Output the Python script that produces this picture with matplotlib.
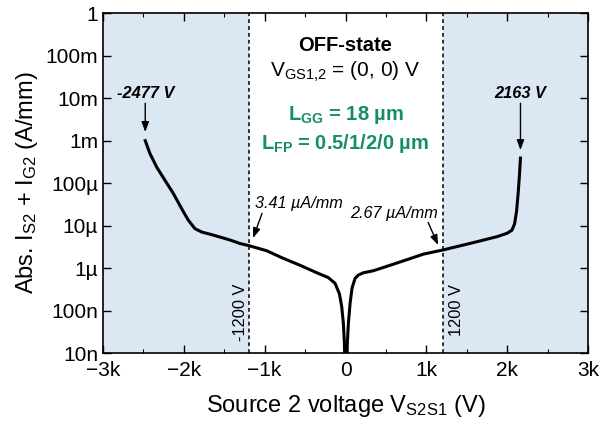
import numpy as np
import matplotlib
matplotlib.use("Agg")
import matplotlib.pyplot as plt
from matplotlib.ticker import FixedLocator, MultipleLocator, LogLocator, NullFormatter

plt.rcParams['font.family'] = ['Liberation Sans', 'DejaVu Sans']
plt.rcParams['mathtext.fontset'] = 'custom'
plt.rcParams['mathtext.rm'] = 'Liberation Sans'
plt.rcParams['mathtext.it'] = 'Liberation Sans:italic'
plt.rcParams['mathtext.bf'] = 'Liberation Sans:bold'

# negative sweep (V, A/mm)
v_neg = [-2477, -2419, -2336, -2233, -2130, -2026, -1945, -1862, -1779, -1635, -1429,
         -1305, -1200, -975, -769, -563, -356, -213, -130, -76, -47, -27, -14, -6]
i_neg = [1.0e-3, 5.0e-4, 2.4e-4, 1.17e-4, 5.75e-5, 2.5e-5, 1.35e-5, 8.5e-6, 7.1e-6, 6.0e-6, 4.6e-6,
         3.8e-6, 3.41e-6, 2.57e-6, 1.7e-6, 1.17e-6, 7.8e-7, 6.0e-7, 4.4e-7, 2.5e-7, 1.23e-7,
         5.0e-8, 1.7e-8, 3e-9]

# positive sweep (V, A/mm)
v_pos = [14, 22, 35, 56, 80, 118, 159, 221, 344, 551, 757, 963, 1200, 1582, 1871, 1995,
         2057, 2090, 2115, 2135, 2150, 2163]
i_pos = [3e-9, 1.7e-8, 5.0e-8, 1.48e-7, 3.4e-7, 5.75e-7, 6.9e-7, 7.8e-7, 8.7e-7, 1.17e-6,
         1.58e-6, 2.14e-6, 2.67e-6, 4.0e-6, 5.5e-6, 6.6e-6, 7.8e-6, 1.1e-5, 2.2e-5, 6.0e-5,
         1.5e-4, 3.9e-4]

y_ticks = [1e-8, 1e-7, 1e-6, 1e-5, 1e-4, 1e-3, 1e-2, 1e-1, 1]
y_labels = ['10n', '100n', '1\u00b5', '10\u00b5', '100\u00b5', '1m', '10m', '100m', '1']
x_ticks = [-3000, -2000, -1000, 0, 1000, 2000, 3000]
x_labels = ['\u22123k', '\u22122k', '\u22121k', '0', '1k', '2k', '3k']

green = '#16905e'
shade = '#dce7f4'

fig = plt.figure(figsize=(6.02, 4.26), dpi=100)
ax = fig.add_axes([0.171, 0.171, 0.806, 0.798])

ax.axvspan(-3000, -1200, color=shade, lw=0, zorder=0)
ax.axvspan(1200, 3000, color=shade, lw=0, zorder=0)
ax.axvline(-1200, color='k', lw=1.1, ls=(0, (2.5, 2)), zorder=1)
ax.axvline(1200, color='k', lw=1.1, ls=(0, (2.5, 2)), zorder=1)

ax.plot(v_neg, i_neg, color='k', lw=2.2, zorder=3, solid_joinstyle='round')
ax.plot(v_pos, i_pos, color='k', lw=2.2, zorder=3, solid_joinstyle='round')

ax.set_yscale('log')
ax.set_xlim(-3000, 3000)
ax.set_ylim(1e-8, 1)
ax.yaxis.set_major_locator(FixedLocator(y_ticks))
ax.set_yticklabels(y_labels)
ax.yaxis.set_minor_locator(LogLocator(base=10, subs=np.arange(2, 10)))
ax.yaxis.set_minor_formatter(NullFormatter())
ax.set_xticks(x_ticks)
ax.set_xticklabels(x_labels)
ax.xaxis.set_minor_locator(MultipleLocator(500))
ax.tick_params(which='both', direction='in', top=True, right=True, labelsize=15)
ax.tick_params(which='major', length=6, width=1)
ax.tick_params(which='minor', length=3, width=0.8)
ax.tick_params(axis='x', which='major', pad=6)
for s in ax.spines.values():
    s.set_linewidth(1.2)

ax.set_xlabel(r'Source 2 voltage V$_{\rm S2S1}$ (V)', fontsize=17, labelpad=9)
ax.set_ylabel(r'Abs. I$_{\rm S2}$ + I$_{\rm G2}$ (A/mm)', fontsize=17, labelpad=4)

ax.text(0.5, 0.906, 'OFF-state', transform=ax.transAxes, ha='center', va='center',
        fontsize=14.5, fontweight='bold')
ax.text(0.5, 0.826, r'V$_{\rm GS1{,}2}$ = (0, 0) V', transform=ax.transAxes, ha='center',
        va='center', fontsize=15)
ax.text(0.5, 0.70, 'L$_{\\bf GG}$ = 18 \u00b5m', transform=ax.transAxes,
        ha='center', va='center', fontsize=14.5, fontweight='bold', color=green)
ax.text(0.5, 0.618, 'L$_{\\bf FP}$ = 0.5/1/2/0 \u00b5m',
        transform=ax.transAxes, ha='center', va='center', fontsize=14.5, fontweight='bold',
        color=green)

arrow = dict(arrowstyle='-|>,head_length=0.6,head_width=0.22', color='k', lw=1.0,
             shrinkA=0, shrinkB=0)

ax.text(-2477, 1.3e-2, '-2477 V', ha='center', va='center', fontsize=11.8,
        fontweight='bold', fontstyle='italic')
ax.annotate('', xy=(-2477, 1.6e-3), xytext=(-2477, 7.6e-3), arrowprops=arrow)
ax.text(2163, 1.3e-2, '2163 V', ha='center', va='center', fontsize=11.8,
        fontweight='bold', fontstyle='italic')
ax.annotate('', xy=(2163, 6e-4), xytext=(2163, 7.6e-3), arrowprops=arrow)

ax.text(-1120, 3.4e-5, '3.41 \u00b5A/mm', ha='left', va='center', fontsize=11.7,
        fontstyle='italic')
ax.annotate('', xy=(-1144, 5.1e-6), xytext=(-1033, 1.94e-5), arrowprops=arrow)
ax.text(1144, 1.94e-5, '2.67 \u00b5A/mm', ha='right', va='center', fontsize=11.7,
        fontstyle='italic')
ax.annotate('', xy=(1144, 3.5e-6), xytext=(1021, 1.2e-5), arrowprops=arrow)

ax.text(-1293, 9.2e-8, '-1200 V', rotation=90, ha='center', va='center', fontsize=11.8)
ax.text(1367, 1.02e-7, '1200 V', rotation=90, ha='center', va='center', fontsize=11.8)

fig.savefig('out.png', dpi=100)
